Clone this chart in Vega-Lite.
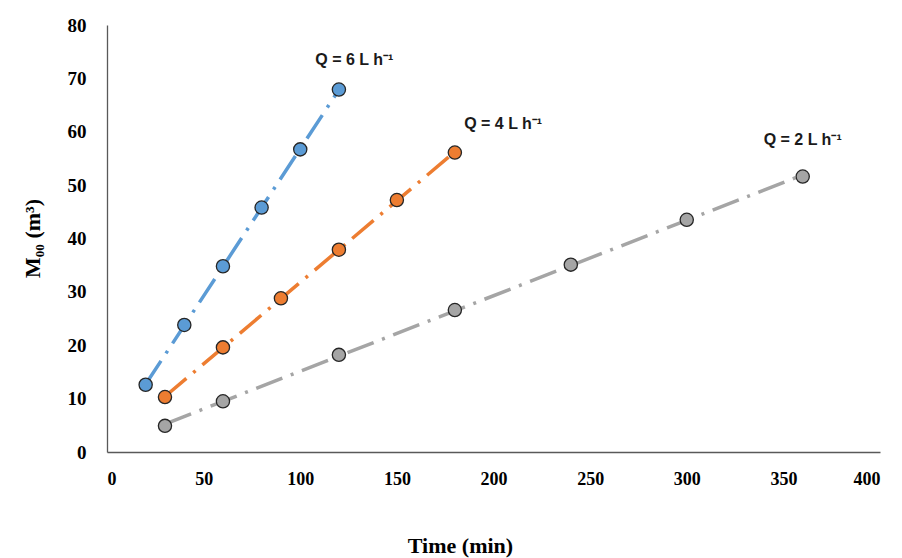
{
  "$schema": "https://vega.github.io/schema/vega-lite/v6.json",
  "width": 773,
  "height": 427,
  "autosize": {"type": "none"},
  "padding": {"left": 107, "top": 25, "right": 22, "bottom": 106},
  "background": "white",
  "config": {"view": {"stroke": null}},
  "datasets": {
    "pts": [
      {"series": "6", "time": 20, "m": 12.6},
      {"series": "6", "time": 40, "m": 23.8},
      {"series": "6", "time": 60, "m": 34.8},
      {"series": "6", "time": 80, "m": 45.8},
      {"series": "6", "time": 100, "m": 56.7},
      {"series": "6", "time": 120, "m": 67.9},
      {"series": "4", "time": 30, "m": 10.3},
      {"series": "4", "time": 60, "m": 19.6},
      {"series": "4", "time": 90, "m": 28.8},
      {"series": "4", "time": 120, "m": 37.9},
      {"series": "4", "time": 150, "m": 47.2},
      {"series": "4", "time": 180, "m": 56.1},
      {"series": "2", "time": 30, "m": 4.9},
      {"series": "2", "time": 60, "m": 9.5},
      {"series": "2", "time": 120, "m": 18.2},
      {"series": "2", "time": 180, "m": 26.6},
      {"series": "2", "time": 240, "m": 35.1},
      {"series": "2", "time": 300, "m": 43.5},
      {"series": "2", "time": 360, "m": 51.6}
    ],
    "labels": [
      {"text": "Q = 6 L h⁻¹", "time": 128, "m": 73.4},
      {"text": "Q = 4 L h⁻¹", "time": 205, "m": 61.4},
      {"text": "Q = 2 L h⁻¹", "time": 360, "m": 58.4}
    ]
  },
  "layer": [
    {
      "data": {"name": "pts"},
      "transform": [{"regression": "m", "on": "time", "groupby": ["series"]}],
      "mark": {"type": "line", "strokeWidth": 3.5, "strokeDash": [28, 9, 3, 9]},
      "encoding": {
        "x": {"field": "time", "type": "quantitative"},
        "y": {"field": "m", "type": "quantitative"},
        "color": {"field": "series", "type": "nominal", "legend": null,
          "scale": {"domain": ["6", "4", "2"], "range": ["#5B9BD5", "#ED7D31", "#A5A5A5"]}}
      }
    },
    {
      "data": {"name": "pts"},
      "mark": {"type": "point", "filled": true, "size": 175, "stroke": "#262626", "strokeWidth": 1.3, "opacity": 1},
      "encoding": {
        "x": {"field": "time", "type": "quantitative",
          "scale": {"domain": [0, 400], "nice": false},
          "axis": {"values": [0, 50, 100, 150, 200, 250, 300, 350, 400], "grid": false, "ticks": false,
            "domainColor": "#595959", "domainWidth": 1.3,
            "labelFont": "Liberation Serif", "labelFontWeight": "bold", "labelFontSize": 18, "labelColor": "#000000",
            "labelPadding": 18,
            "title": "Time (min)", "titleFont": "Liberation Serif", "titleFontWeight": "bold", "titleFontSize": 22,
            "titleColor": "#000000", "titleX": 353, "titleY": 93, "titleBaseline": "middle", "titleAlign": "center"}},
        "y": {"field": "m", "type": "quantitative",
          "scale": {"domain": [0, 80], "nice": false},
          "axis": {"values": [0, 10, 20, 30, 40, 50, 60, 70, 80], "grid": false, "ticks": false,
            "domainColor": "#595959", "domainWidth": 1.3,
            "labelFont": "Liberation Serif", "labelFontWeight": "bold", "labelFontSize": 19, "labelColor": "#000000",
            "labelPadding": 21,
            "title": "M₀₀ (m³)", "titleFont": "Liberation Serif", "titleFontWeight": "bold", "titleFontSize": 22,
            "titleColor": "#000000", "titleX": -75, "titleY": 213, "titleBaseline": "middle", "titleAlign": "center", "titleAngle": -90}},
        "color": {"field": "series", "type": "nominal", "legend": null,
          "scale": {"domain": ["6", "4", "2"], "range": ["#5B9BD5", "#ED7D31", "#A5A5A5"]}}
      }
    },
    {
      "data": {"name": "labels"},
      "mark": {"type": "text", "font": "Liberation Sans", "fontWeight": "bold", "fontSize": 16, "color": "#1a1a1a", "align": "center", "baseline": "middle"},
      "encoding": {
        "x": {"field": "time", "type": "quantitative"},
        "y": {"field": "m", "type": "quantitative"},
        "text": {"field": "text"}
      }
    }
  ]
}
